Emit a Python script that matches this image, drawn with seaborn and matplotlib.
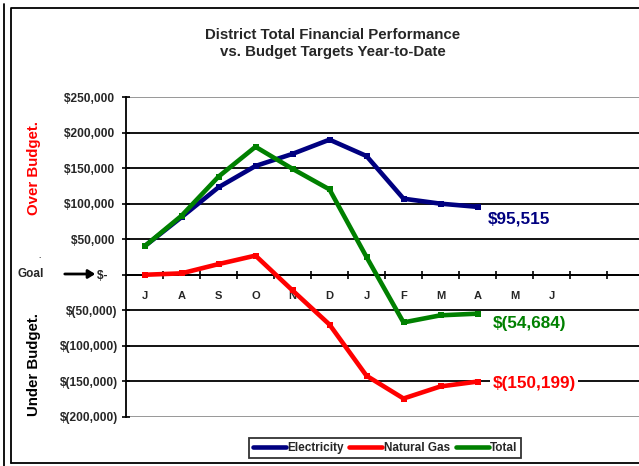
import matplotlib
matplotlib.use("Agg")
import matplotlib.pyplot as plt
from matplotlib.lines import Line2D
import seaborn as sns
import pandas as pd
import numpy as np

# ---- data ----
months = ["J", "A", "S", "O", "N", "D", "J", "F", "M", "A", "M", "J", "", ""]
electricity = [40000, 81000, 123000, 153000, 170000, 190000, 167000, 107000, 100000, 95515]
natural_gas = [0, 2000, 15000, 27000, -22000, -70000, -142000, -174000, -157000, -150199]
total = [40000, 83000, 138000, 180000, 149000, 120000, 25000, -67000, -57000, -54684]
series_names = ["Electricity", "Natural Gas", "Total"]
series_colors = ["#000080", "#FF0000", "#008000"]
end_labels = ["$95,515", "$(54,684)", "$(150,199)"]
y_ticks = [250000, 200000, 150000, 100000, 50000, 0, -50000, -100000, -150000, -200000]
y_tick_labels = ["$250,000 ", "$200,000 ", "$150,000 ", "$100,000 ", "$50,000 ", "$-   ",
                 "$(50,000)", "$(100,000)", "$(150,000)", "$(200,000)"]

sns.set_style("white")
plt.rcParams["font.family"] = ["Liberation Sans", "DejaVu Sans"]
plt.rcParams["font.weight"] = "bold"

W, H = 639, 466
fig = plt.figure(figsize=(W / 100, H / 100), dpi=100)

def fx(x):
    return x / W

def fy(y):
    return 1 - y / H

ax_left, ax_right, ax_top, ax_bot = 126, 644, 97, 417
ax = fig.add_axes([fx(ax_left), fy(ax_bot), (ax_right - ax_left) / W, (ax_bot - ax_top) / H])

rows = []
for name, vals in zip(series_names, [electricity, natural_gas, total]):
    for i, v in enumerate(vals):
        rows.append({"idx": i, "value": v, "series": name})
df = pd.DataFrame(rows)

sns.lineplot(data=df, x="idx", y="value", hue="series", hue_order=series_names,
             palette=dict(zip(series_names, series_colors)), marker="s", markersize=4.5,
             markeredgewidth=0, linewidth=3.3, legend=False, ax=ax, zorder=3)

ax.set_xlim(-0.5, len(months) - 0.5)
ax.set_ylim(-200000, 250000)
ax.set_xlabel("")
ax.set_ylabel("")

# y axis
ax.set_yticks(y_ticks)
ax.set_yticklabels(y_tick_labels, fontsize=8.6, fontweight="bold")
ax.tick_params(axis="y", direction="inout", length=6, width=1.2, color="black", pad=3, left=True)
ax.yaxis.grid(True, color="black", linewidth=1.3)
for gl, t in zip(ax.get_ygridlines(), ax.get_yticks()):
    if t in (250000, -200000):
        gl.set_color("#909090")
ax.set_axisbelow(True)

# x axis at zero
ax.spines["bottom"].set_position(("data", 0))
ax.spines["bottom"].set_linewidth(1.3)
ax.spines["left"].set_linewidth(1.3)
ax.spines["left"].set_color("black")
ax.spines["bottom"].set_color("black")
for s in ("top", "right"):
    ax.spines[s].set_visible(False)
ax.set_xticks(range(len(months)))
ax.set_xticklabels(months, fontsize=8, fontweight="bold")
ax.set_xticks(np.arange(0.5, len(months) - 0.5, 1.0), minor=True)
ax.tick_params(axis="x", which="major", length=0, pad=12)
ax.tick_params(axis="x", which="minor", direction="inout", length=6, width=1.2, color="black", bottom=True)
ax.xaxis.grid(False)

# end labels
offsets = [(10, -12), (15, -10), (15, -2)]
last_vals = [electricity[-1], total[-1], natural_gas[-1]]
lab_colors = [series_colors[0], series_colors[2], series_colors[1]]
for lab, v, c, off in zip(end_labels, last_vals, lab_colors, offsets):
    ax.annotate(lab, xy=(len(electricity) - 1, v), xytext=off, textcoords="offset pixels",
                ha="left", va="center", fontsize=12.3, fontweight="bold", color=c, zorder=5,
                bbox=dict(boxstyle="square,pad=0.15", fc="white", ec="none"))

# title
fig.text(fx(333), fy(35), "District Total Financial Performance", ha="center", va="center",
         fontsize=10.8, fontweight="bold")
fig.text(fx(333), fy(52), "vs. Budget Targets Year-to-Date", ha="center", va="center",
         fontsize=10.8, fontweight="bold")

# side labels
fig.text(fx(34), fy(168), "Over Budget.", rotation=90, ha="center", va="center",
         fontsize=10.8, fontweight="bold", color="#FF0000")
fig.text(fx(34), fy(365), "Under Budget.", rotation=90, ha="center", va="center",
         fontsize=10.8, fontweight="bold", color="black")
fig.text(fx(31), fy(274), "Goal", ha="center", va="center", fontsize=8.5, fontweight="bold")
fig.text(fx(40), fy(256), ".", ha="center", va="center", fontsize=6, fontweight="bold")
fig.add_artist(matplotlib.patches.FancyArrowPatch((fx(62), fy(274)), (fx(98), fy(274)),
               transform=fig.transFigure, arrowstyle="-|>,head_length=4,head_width=2.5",
               color="black", linewidth=2.0, mutation_scale=1))

# legend
handles = [Line2D([0], [0], color=c, linewidth=3.3) for c in series_colors]
leg = fig.legend(handles, series_names, loc="center", bbox_to_anchor=(fx(385), fy(448)),
                 ncol=3, frameon=True, fancybox=False, edgecolor="black",
                 handlelength=2.8, handletextpad=0.1, columnspacing=0.5, borderpad=0.3,
                 prop={"weight": "bold", "size": 8.5})
leg.get_frame().set_linewidth(1.3)

# outer frame
fig.add_artist(Line2D([fx(3.5), fx(3.5)], [fy(4), fy(466)], transform=fig.transFigure,
                      color="black", linewidth=1.3))
fig.add_artist(Line2D([fx(11), fx(11), fx(645)], [fy(463), fy(7.5), fy(7.5)],
                      transform=fig.transFigure, color="black", linewidth=1.3))
fig.add_artist(Line2D([fx(11), fx(645)], [fy(463), fy(463)], transform=fig.transFigure,
                      color="black", linewidth=1.3))

fig.savefig("out.png", dpi=100)
